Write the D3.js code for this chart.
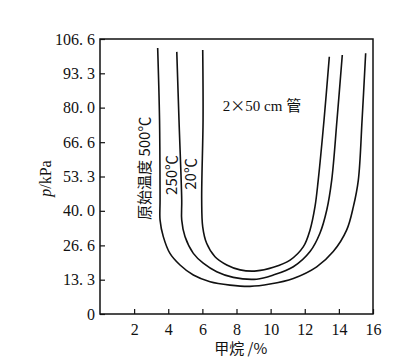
<!DOCTYPE html>
<html>
<head>
<meta charset="utf-8">
<style>
  html, body { margin: 0; padding: 0; background: #fff; }
  svg text { fill: #111; }
</style>
</head>
<body>
<div id="chart"></div>
<script src="https://cdn.jsdelivr.net/npm/d3@7.8.3/dist/d3.min.js"></script>
<script>
// methane explosion limits vs pressure, three initial temperatures
const xTicks = [2, 4, 6, 8, 10, 12, 14, 16];
const yTicks = [0, 13.3, 26.6, 40.0, 53.3, 66.6, 80.0, 93.3, 106.6];

// [methane %, pressure kPa]
const curve500 = [
  [3.38, 103.1], [3.49, 75.2], [3.52, 44.2], [3.52, 36.4], [3.71, 30.0],
  [4.10, 23.5], [4.69, 19.0], [5.47, 15.1], [6.45, 12.5], [7.62, 11.2],
  [8.79, 10.7], [9.96, 11.6], [11.33, 13.8], [12.70, 18.3], [13.67, 24.2],
  [14.46, 32.6], [14.85, 41.6], [15.14, 51.9], [15.36, 75.2], [15.57, 101.1]
];
const curve250 = [
  [4.50, 101.6], [4.63, 75.2], [4.79, 44.2], [4.79, 36.4], [4.98, 30.0],
  [5.47, 23.5], [6.05, 19.7], [6.84, 16.4], [7.81, 14.2], [9.18, 13.5],
  [10.16, 15.1], [11.33, 18.3], [12.31, 24.2], [12.89, 31.3], [13.29, 40.3],
  [13.58, 51.9], [13.89, 75.2], [14.20, 100.4]
];
const curve20 = [
  [6.02, 102.3], [6.04, 75.2], [5.96, 44.2], [6.02, 33.8], [6.25, 27.4],
  [6.74, 22.2], [7.43, 19.0], [8.21, 17.1], [9.18, 16.7], [10.16, 18.1],
  [11.14, 20.9], [11.92, 26.1], [12.31, 32.6], [12.60, 41.6], [12.79, 51.9],
  [13.13, 75.2], [13.44, 99.7]
];
const curves = [curve500, curve250, curve20];

// curve labels: [text, x %, p kPa at text centre]
const curveLabels = [
  ["原始温度 500℃", 2.62, 56.5],
  ["250℃", 4.18, 53.9],
  ["20℃", 5.34, 54.3]
];

const width = 408, height = 364;
const margin = {top: 39, right: 35, bottom: 50, left: 100};

const svg = d3.select("#chart").append("svg")
  .attr("width", width)
  .attr("height", height);

const x = d3.scaleLinear().domain([0, 16]).range([margin.left, width - margin.right]);
const y = d3.scaleLinear().domain([0, 106.6]).range([height - margin.bottom, margin.top]);

const serif = "'Liberation Serif', 'DejaVu Serif', serif";
const cjk = "'Noto Sans CJK SC', sans-serif";

// frame
svg.append("rect")
  .attr("x", x(0)).attr("y", y(106.6))
  .attr("width", x(16) - x(0)).attr("height", y(0) - y(106.6))
  .attr("fill", "none").attr("stroke", "#111").attr("stroke-width", 1.5);

// x axis, ticks pointing in
const xAxis = svg.append("g")
  .attr("transform", `translate(0,${y(0)})`)
  .call(d3.axisBottom(x).tickValues(xTicks).tickSize(-5).tickPadding(10).tickFormat(d3.format("d")));
xAxis.select(".domain").remove();
xAxis.selectAll("line").attr("stroke", "#111").attr("stroke-width", 1.2);
xAxis.selectAll("text").style("font-family", serif).style("font-size", "16px").attr("fill", "#111");

// y axis
const yAxis = svg.append("g")
  .attr("transform", `translate(${x(0)},0)`)
  .call(d3.axisLeft(y).tickValues(yTicks).tickSize(-5).tickPadding(5)
    .tickFormat(d => d === 0 ? "0" : d3.format(".1f")(d).replace(".", ". ")));
yAxis.select(".domain").remove();
yAxis.selectAll("line").attr("stroke", "#111").attr("stroke-width", 1.2);
yAxis.selectAll("text").style("font-family", serif).style("font-size", "16px")
  .attr("fill", "#111").attr("xml:space", "preserve").style("white-space", "pre");

// curves
const line = d3.line()
  .x(d => x(d[0]))
  .y(d => y(d[1]))
  .curve(d3.curveCatmullRom.alpha(0.5));

svg.selectAll(".curve")
  .data(curves)
  .join("path")
  .attr("class", "curve")
  .attr("d", line)
  .attr("fill", "none")
  .attr("stroke", "#111")
  .attr("stroke-width", 1.6);

// curve labels, vertical
svg.selectAll(".clabel")
  .data(curveLabels)
  .join("text")
  .attr("class", "clabel")
  .attr("transform", d => `translate(${x(d[1])},${y(d[2])}) rotate(-90)`)
  .attr("text-anchor", "middle")
  .attr("dy", "0.35em")
  .style("font-family", cjk)
  .style("font-size", "15px")
  .text(d => d[0]);

// tube note
const note = svg.append("text")
  .attr("x", x(7.2)).attr("y", y(80.0) + 3)
  .style("font-family", serif)
  .style("font-size", "15px")
  .attr("xml:space", "preserve")
  .style("white-space", "pre");
note.append("tspan").text("2");
note.append("tspan").style("font-family", cjk).text("×");
note.append("tspan").text("50 cm ");
note.append("tspan").style("font-family", cjk).text("管");

// axis titles
svg.append("text")
  .attr("x", x(8.25)).attr("y", 354)
  .attr("text-anchor", "middle")
  .style("font-family", cjk)
  .style("font-size", "15px")
  .text("甲烷 /%");

const yTitle = svg.append("text")
  .attr("transform", `translate(51,${y(53.3) + 2}) rotate(-90)`)
  .attr("text-anchor", "middle")
  .style("font-family", serif)
  .style("font-size", "16px");
yTitle.append("tspan").style("font-style", "italic").text("p");
yTitle.append("tspan").text("/kPa");
</script>
</body>
</html>
